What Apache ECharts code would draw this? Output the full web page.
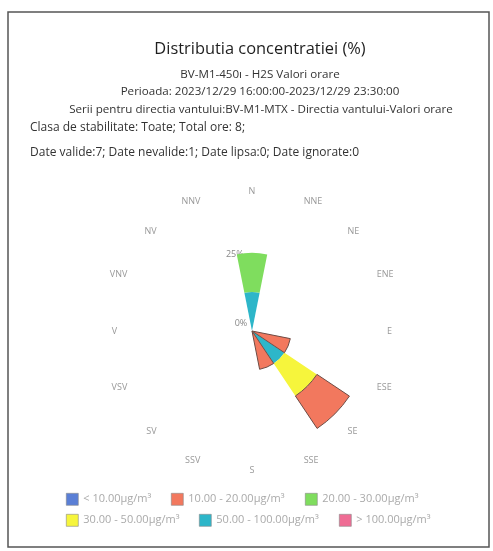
<!DOCTYPE html>
<html>
<head>
<meta charset="utf-8">
<script src="https://cdn.jsdelivr.net/npm/echarts@6/dist/echarts.min.js"></script>
<style>
html,body{margin:0;padding:0;background:#fff;}
#c{width:493px;height:551px;}
</style>
</head>
<body>
<div id="c"></div>
<script>
// Directions (Romanian compass labels)
var directions = ['N','NNE','NE','ENE','E','ESE','SE','SSE','S','SSV','SV','VSV','V','VNV','NV','NNV'];

// Concentration class names
var classNames = ['< 10.00µg/m³','10.00 - 20.00µg/m³','20.00 - 30.00µg/m³','30.00 - 50.00µg/m³','50.00 - 100.00µg/m³','> 100.00µg/m³'];
var classColors = ['#5a7fd6','#f2785e','#7fdd5e','#f6f53c','#2db6c9','#ef6c94'];

// Percent of hours per direction, per class
var lt10      = [0,0,0,0,0,0,0,0,0,0,0,0,0,0,0,0];
var c10_20    = [0,0,0,0,0,12.5,12.5,12.5,0,0,0,0,0,0,0,0];
var c20_30    = [12.5,0,0,0,0,0,0,0,0,0,0,0,0,0,0,0];
var c30_50    = [0,0,0,0,0,0,12.5,0,0,0,0,0,0,0,0,0];
var c50_100   = [12.5,0,0,0,0,0,12.5,0,0,0,0,0,0,0,0,0];
var gt100     = [0,0,0,0,0,0,0,0,0,0,0,0,0,0,0,0];

var radiusTicks = [0, 25];

var mainTitle = 'Distributia concentratiei (%)';
var titleLines = [
  'BV-M1-450ı - H2S Valori orare',
  'Perioada: 2023/12/29 16:00:00-2023/12/29 23:30:00',
  'Serii pentru directia vantului:BV-M1-MTX - Directia vantului-Valori orare'
];
var infoLines = [
  'Clasa de stabilitate: Toate; Total ore: 8;',
  'Date valide:7; Date nevalide:1; Date lipsa:0; Date ignorate:0'
];

var chart = echarts.init(document.getElementById('c'), null, {renderer:'canvas'});

function mkSeries(idx, data){
  var st = {color: classColors[idx]};
  if (idx === 1) { st.borderColor = '#6e4c45'; st.borderWidth = 1; }
  return {
    type:'bar', coordinateSystem:'polar', name: classNames[idx],
    data: data.map(function(v){ return v === 0 ? '-' : v; }),
    stack:'rose', barCategoryGap:'0%', itemStyle: st, silent:true
  };
}

var font = 'Open Sans';
var legendPos = [[66,493],[171,493],[305,493],[66,514],[199,514],[339,514]];
var legends = classNames.map(function(n, i){
  return {data:[n], left:legendPos[i][0], top:legendPos[i][1], itemWidth:12, itemHeight:12, itemGap:0,
    icon:'rect', selectedMode:false, padding:0,
    itemStyle:{borderColor:'#888', borderWidth:0.6},
    textStyle:{fontFamily:font, fontSize:11, color:'#aaa'}};
});

var sub = {fontFamily:font, fontSize:11.6, fontWeight:'normal', color:'#333'};
var info = {fontFamily:font, fontSize:12, fontWeight:'normal', color:'#333'};
var option = {
  backgroundColor:'#fff',
  animation:false,
  title:[
    {text:mainTitle, left:255, textAlign:'center', top:36, textStyle:{fontFamily:font, fontSize:16.4, fontWeight:'normal', color:'#1e1e1e'}},
    {text:titleLines[0], left:255, textAlign:'center', top:64, textStyle:sub},
    {text:titleLines[1], left:255, textAlign:'center', top:81, textStyle:sub},
    {text:titleLines[2], left:256, textAlign:'center', top:99, textStyle:sub},
    {text:infoLines[0], left:25, top:117, textStyle:info},
    {text:infoLines[1], left:25, top:142, textStyle:info}
  ],
  graphic:[
    {type:'rect', shape:{x:8, y:12, width:481, height:535}, style:{fill:'none', stroke:'#555', lineWidth:1.5}, silent:true}
  ],
  legend: legends,
  polar:{center:[252,331], radius:125},
  angleAxis:{
    type:'category', data:directions, startAngle:101.25, clockwise:true, boundaryGap:true,
    axisLine:{show:false}, axisTick:{show:false}, splitLine:{show:false},
    axisLabel:{fontFamily:font, fontSize:9, color:'#999', margin:10}
  },
  radiusAxis:{
    type:'value', min:0, max:40, interval:25,
    axisLine:{show:false}, axisTick:{show:false}, splitLine:{show:false},
    axisLabel:{fontFamily:font, fontSize:9, color:'#888', margin:0, align:'center', verticalAlign:'middle',
      formatter:function(v){
        if (radiusTicks.indexOf(v) < 0) return '';
        return v === 0 ? '{a|' + v + '%}' : '{b|' + v + '%}';
      },
      rich:{a:{fontFamily:font, fontSize:9, color:'#888', padding:[0,22,16,0]}, b:{fontFamily:font, fontSize:9, color:'#888', padding:[0,4,0,0]}}
    }
  },
  series:[
    mkSeries(5, gt100),
    mkSeries(4, c50_100),
    mkSeries(3, c30_50),
    mkSeries(2, c20_30),
    mkSeries(1, c10_20),
    mkSeries(0, lt10)
  ]
};
chart.setOption(option);
</script>
</body>
</html>
